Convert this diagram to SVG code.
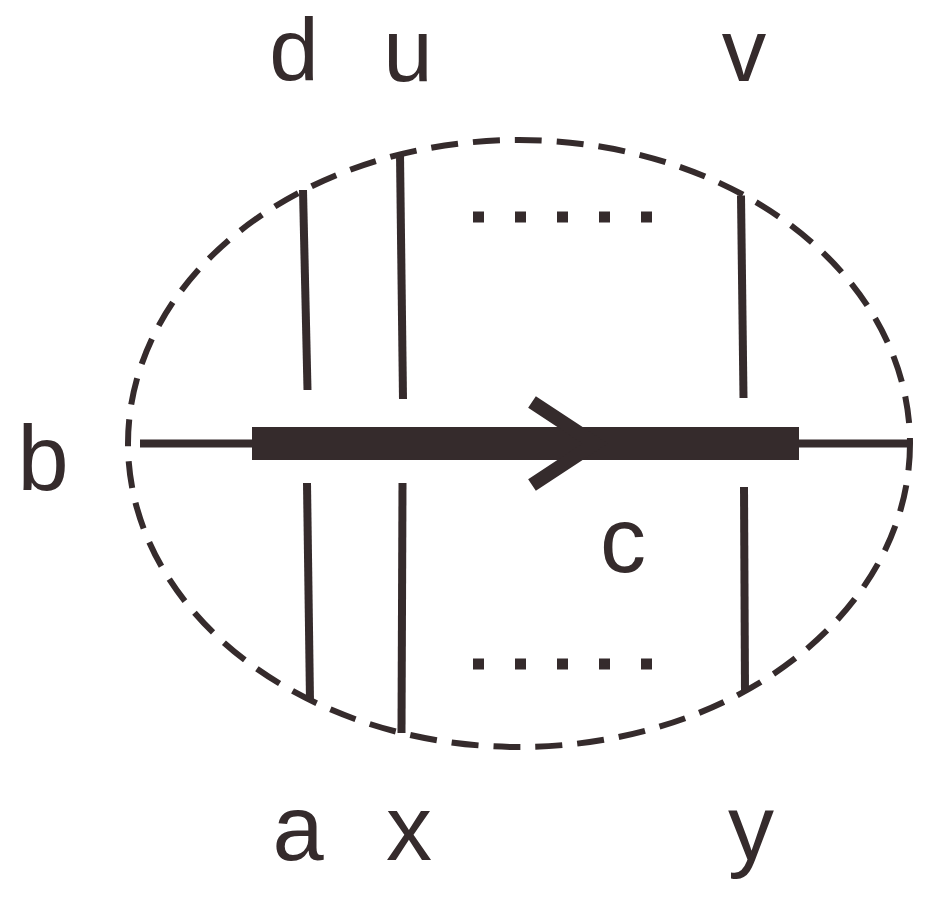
<svg xmlns="http://www.w3.org/2000/svg" width="935" height="905" viewBox="0 0 935 905">
<style>
.lbl{font-family:"Liberation Sans",Arial,sans-serif;font-size:92px;fill:#352b2c;text-anchor:middle}
.top{font-size:89px}
.ln{stroke:#352b2c;fill:none;stroke-width:8}
.dots{stroke:#352b2c;stroke-width:11;stroke-dasharray:11 31}
</style>
<rect width="935" height="905" fill="#ffffff"/>
<g id="boundary">
<ellipse cx="519" cy="443.5" rx="391" ry="303.5" fill="none" stroke="#352b2c" stroke-width="6" stroke-dasharray="27 15"/>
</g>
<g id="connectors">
<line class="ln" x1="140" y1="443.5" x2="910" y2="443.5"/>
<rect x="252" y="427" width="547" height="33" fill="#352b2c"/>
<polyline points="532,402 595,443.5 532,485" fill="none" stroke="#352b2c" stroke-width="14"/>
<line class="ln" x1="303" y1="190" x2="307.5" y2="390"/>
<line class="ln" x1="307" y1="483" x2="310" y2="701"/>
<line class="ln" x1="400" y1="154" x2="403" y2="399"/>
<line class="ln" x1="402.5" y1="483" x2="401.5" y2="733"/>
<line class="ln" x1="741" y1="195.5" x2="743.5" y2="398"/>
<line class="ln" x1="744" y1="487" x2="745" y2="692"/>
<line class="dots" x1="473" y1="217" x2="655" y2="217"/>
<line class="dots" x1="473" y1="664" x2="655" y2="664"/>
</g>
<g id="node-d"><text class="lbl top" x="294" y="81">d</text></g>
<g id="node-u"><text class="lbl top" x="408" y="81">u</text></g>
<g id="node-v"><text class="lbl top" x="744" y="81">v</text></g>
<g id="node-b"><text class="lbl" x="43" y="490">b</text></g>
<g id="node-c"><text class="lbl" x="623" y="572">c</text></g>
<g id="node-a"><text class="lbl" x="298" y="860">a</text></g>
<g id="node-x"><text class="lbl" x="409" y="860">x</text></g>
<g id="node-y"><text class="lbl" x="751" y="860">y</text></g>
</svg>
